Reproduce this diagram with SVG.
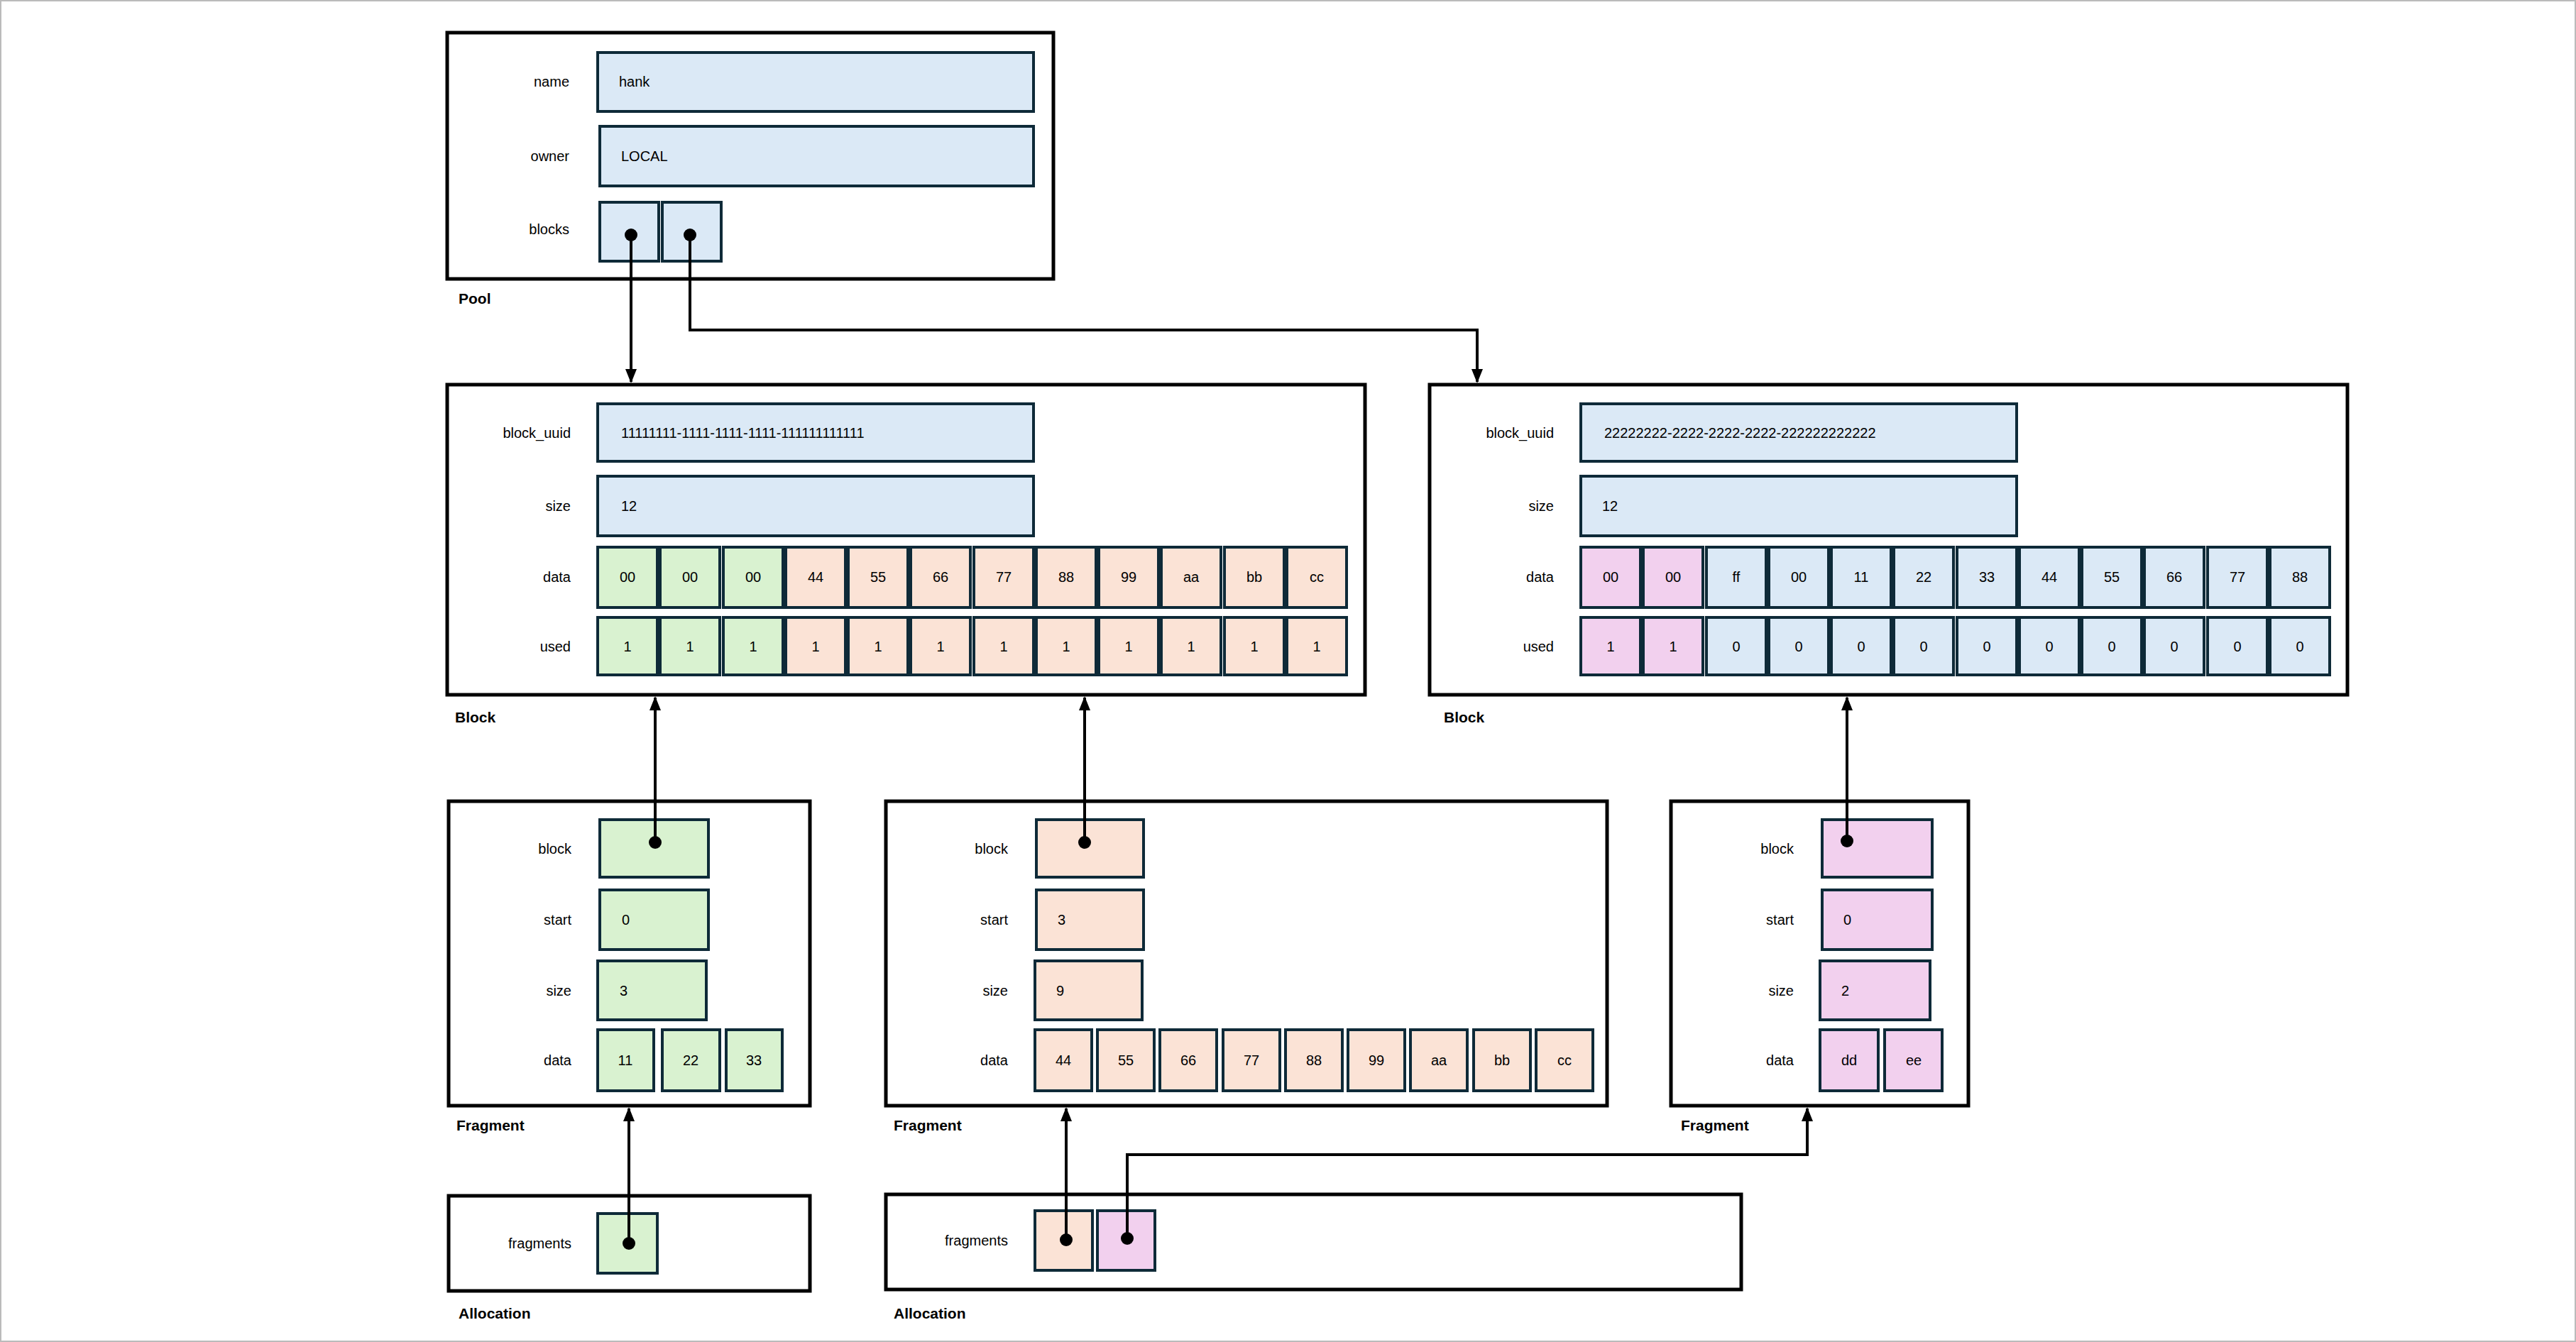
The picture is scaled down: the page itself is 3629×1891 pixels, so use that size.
<svg xmlns="http://www.w3.org/2000/svg" width="3629" height="1891" viewBox="0 0 3629 1891">
<defs>
<style>
.box{fill:#fff;stroke:#000;stroke-width:5}
.f{stroke:#0e2a38;stroke-width:4}
.b{fill:#dbe9f6}.g{fill:#d9f2d0}.o{fill:#fbe3d6}.p{fill:#f2d0ee}
text{font-family:"Liberation Sans",Arial,sans-serif;font-size:20px;fill:#000}
.l{text-anchor:end}
.c{text-anchor:middle}
.t{font-weight:bold;font-size:21px}
.w{fill:none;stroke:#000;stroke-width:4}
</style>
<marker id="ah" viewBox="0 0 10 10" refX="9" refY="5" markerWidth="5" markerHeight="5" orient="auto-start-reverse" markerUnits="strokeWidth"><path d="M0,1 L10,5 L0,9 z" fill="#000"/></marker>
</defs>
<rect x="1" y="1" width="3627" height="1889" fill="#fff" stroke="#bbb" stroke-width="2"/>

<g id="pool">
<rect class="box" x="630" y="46" width="854" height="347"/>
<text class="l" x="802" y="122">name</text><rect class="f b" x="842" y="74" width="614" height="83"/><text x="872" y="122">hank</text>
<text class="l" x="802" y="227">owner</text><rect class="f b" x="845" y="178" width="611" height="84"/><text x="875" y="227">LOCAL</text>
<text class="l" x="802" y="330">blocks</text><rect class="f b" x="845" y="285" width="83" height="83"/><rect class="f b" x="933" y="285" width="83" height="83"/>
<text class="t" x="646" y="428">Pool</text>
</g>

<g id="block1">
<rect class="box" x="630" y="542" width="1293" height="437"/>
<text class="l" x="804" y="617">block_uuid</text><rect class="f b" x="842" y="569" width="614" height="81"/><text x="875" y="617">11111111-1111-1111-1111-111111111111</text>
<text class="l" x="804" y="720">size</text><rect class="f b" x="842" y="671" width="614" height="84"/><text x="875" y="720">12</text>
<text class="l" x="804" y="820">data</text>
<text class="l" x="804" y="918">used</text>
<g id="b1data">
<rect class="f g" x="842" y="771" width="84" height="85"/><text class="c" x="884" y="820">00</text>
<rect class="f g" x="930" y="771" width="84" height="85"/><text class="c" x="972" y="820">00</text>
<rect class="f g" x="1019" y="771" width="84" height="85"/><text class="c" x="1061" y="820">00</text>
<rect class="f o" x="1107" y="771" width="84" height="85"/><text class="c" x="1149" y="820">44</text>
<rect class="f o" x="1195" y="771" width="84" height="85"/><text class="c" x="1237" y="820">55</text>
<rect class="f o" x="1283" y="771" width="84" height="85"/><text class="c" x="1325" y="820">66</text>
<rect class="f o" x="1372" y="771" width="84" height="85"/><text class="c" x="1414" y="820">77</text>
<rect class="f o" x="1460" y="771" width="84" height="85"/><text class="c" x="1502" y="820">88</text>
<rect class="f o" x="1548" y="771" width="84" height="85"/><text class="c" x="1590" y="820">99</text>
<rect class="f o" x="1636" y="771" width="84" height="85"/><text class="c" x="1678" y="820">aa</text>
<rect class="f o" x="1725" y="771" width="84" height="85"/><text class="c" x="1767" y="820">bb</text>
<rect class="f o" x="1813" y="771" width="84" height="85"/><text class="c" x="1855" y="820">cc</text>
</g>
<g id="b1used">
<rect class="f g" x="842" y="870" width="84" height="81"/><text class="c" x="884" y="918">1</text>
<rect class="f g" x="930" y="870" width="84" height="81"/><text class="c" x="972" y="918">1</text>
<rect class="f g" x="1019" y="870" width="84" height="81"/><text class="c" x="1061" y="918">1</text>
<rect class="f o" x="1107" y="870" width="84" height="81"/><text class="c" x="1149" y="918">1</text>
<rect class="f o" x="1195" y="870" width="84" height="81"/><text class="c" x="1237" y="918">1</text>
<rect class="f o" x="1283" y="870" width="84" height="81"/><text class="c" x="1325" y="918">1</text>
<rect class="f o" x="1372" y="870" width="84" height="81"/><text class="c" x="1414" y="918">1</text>
<rect class="f o" x="1460" y="870" width="84" height="81"/><text class="c" x="1502" y="918">1</text>
<rect class="f o" x="1548" y="870" width="84" height="81"/><text class="c" x="1590" y="918">1</text>
<rect class="f o" x="1636" y="870" width="84" height="81"/><text class="c" x="1678" y="918">1</text>
<rect class="f o" x="1725" y="870" width="84" height="81"/><text class="c" x="1767" y="918">1</text>
<rect class="f o" x="1813" y="870" width="84" height="81"/><text class="c" x="1855" y="918">1</text>
</g>
<text class="t" x="641" y="1018">Block</text>
</g>

<g id="block2">
<rect class="box" x="2014" y="542" width="1293" height="437"/>
<text class="l" x="2189" y="617">block_uuid</text><rect class="f b" x="2227" y="569" width="614" height="81"/><text x="2230" y="617" dx="30">22222222-2222-2222-2222-222222222222</text>
<text class="l" x="2189" y="720">size</text><rect class="f b" x="2227" y="671" width="614" height="84"/><text x="2257" y="720">12</text>
<text class="l" x="2189" y="820">data</text>
<text class="l" x="2189" y="918">used</text>
<g id="b2data">
<rect class="f p" x="2227" y="771" width="84" height="85"/><text class="c" x="2269" y="820">00</text>
<rect class="f p" x="2315" y="771" width="84" height="85"/><text class="c" x="2357" y="820">00</text>
<rect class="f b" x="2404" y="771" width="84" height="85"/><text class="c" x="2446" y="820">ff</text>
<rect class="f b" x="2492" y="771" width="84" height="85"/><text class="c" x="2534" y="820">00</text>
<rect class="f b" x="2580" y="771" width="84" height="85"/><text class="c" x="2622" y="820">11</text>
<rect class="f b" x="2668" y="771" width="84" height="85"/><text class="c" x="2710" y="820">22</text>
<rect class="f b" x="2757" y="771" width="84" height="85"/><text class="c" x="2799" y="820">33</text>
<rect class="f b" x="2845" y="771" width="84" height="85"/><text class="c" x="2887" y="820">44</text>
<rect class="f b" x="2933" y="771" width="84" height="85"/><text class="c" x="2975" y="820">55</text>
<rect class="f b" x="3021" y="771" width="84" height="85"/><text class="c" x="3063" y="820">66</text>
<rect class="f b" x="3110" y="771" width="84" height="85"/><text class="c" x="3152" y="820">77</text>
<rect class="f b" x="3198" y="771" width="84" height="85"/><text class="c" x="3240" y="820">88</text>
</g>
<g id="b2used">
<rect class="f p" x="2227" y="870" width="84" height="81"/><text class="c" x="2269" y="918">1</text>
<rect class="f p" x="2315" y="870" width="84" height="81"/><text class="c" x="2357" y="918">1</text>
<rect class="f b" x="2404" y="870" width="84" height="81"/><text class="c" x="2446" y="918">0</text>
<rect class="f b" x="2492" y="870" width="84" height="81"/><text class="c" x="2534" y="918">0</text>
<rect class="f b" x="2580" y="870" width="84" height="81"/><text class="c" x="2622" y="918">0</text>
<rect class="f b" x="2668" y="870" width="84" height="81"/><text class="c" x="2710" y="918">0</text>
<rect class="f b" x="2757" y="870" width="84" height="81"/><text class="c" x="2799" y="918">0</text>
<rect class="f b" x="2845" y="870" width="84" height="81"/><text class="c" x="2887" y="918">0</text>
<rect class="f b" x="2933" y="870" width="84" height="81"/><text class="c" x="2975" y="918">0</text>
<rect class="f b" x="3021" y="870" width="84" height="81"/><text class="c" x="3063" y="918">0</text>
<rect class="f b" x="3110" y="870" width="84" height="81"/><text class="c" x="3152" y="918">0</text>
<rect class="f b" x="3198" y="870" width="84" height="81"/><text class="c" x="3240" y="918">0</text>
</g>
<text class="t" x="2034" y="1018">Block</text>
</g>

<g id="fragment1">
<rect class="box" x="632" y="1129" width="509" height="429"/>
<text class="l" x="805" y="1203">block</text><rect class="f g" x="845" y="1155" width="153" height="81"/>
<text class="l" x="805" y="1303">start</text><rect class="f g" x="845" y="1254" width="153" height="84"/><text x="876" y="1303">0</text>
<text class="l" x="805" y="1403">size</text><rect class="f g" x="842" y="1354" width="153" height="83"/><text x="873" y="1403">3</text>
<text class="l" x="805" y="1501">data</text>
<rect class="f g" x="842" y="1451" width="79" height="86"/><text class="c" x="881" y="1501">11</text>
<rect class="f g" x="933" y="1451" width="81" height="86"/><text class="c" x="973" y="1501">22</text>
<rect class="f g" x="1023" y="1451" width="79" height="86"/><text class="c" x="1062" y="1501">33</text>
<text class="t" x="643" y="1593">Fragment</text>
</g>

<g id="fragment2">
<rect class="box" x="1248" y="1129" width="1016" height="429"/>
<text class="l" x="1420" y="1203">block</text><rect class="f o" x="1460" y="1155" width="151" height="81"/>
<text class="l" x="1420" y="1303">start</text><rect class="f o" x="1460" y="1254" width="151" height="84"/><text x="1490" y="1303">3</text>
<text class="l" x="1420" y="1403">size</text><rect class="f o" x="1458" y="1354" width="151" height="83"/><text x="1488" y="1403">9</text>
<text class="l" x="1420" y="1501">data</text>
<rect class="f o" x="1458" y="1451" width="80" height="86"/><text class="c" x="1498" y="1501">44</text>
<rect class="f o" x="1546" y="1451" width="80" height="86"/><text class="c" x="1586" y="1501">55</text>
<rect class="f o" x="1634" y="1451" width="80" height="86"/><text class="c" x="1674" y="1501">66</text>
<rect class="f o" x="1723" y="1451" width="80" height="86"/><text class="c" x="1763" y="1501">77</text>
<rect class="f o" x="1811" y="1451" width="80" height="86"/><text class="c" x="1851" y="1501">88</text>
<rect class="f o" x="1899" y="1451" width="80" height="86"/><text class="c" x="1939" y="1501">99</text>
<rect class="f o" x="1987" y="1451" width="80" height="86"/><text class="c" x="2027" y="1501">aa</text>
<rect class="f o" x="2076" y="1451" width="80" height="86"/><text class="c" x="2116" y="1501">bb</text>
<rect class="f o" x="2164" y="1451" width="80" height="86"/><text class="c" x="2204" y="1501">cc</text>
<text class="t" x="1259" y="1593">Fragment</text>
</g>

<g id="fragment3">
<rect class="box" x="2354" y="1129" width="419" height="429"/>
<text class="l" x="2527" y="1203">block</text><rect class="f p" x="2567" y="1155" width="155" height="81"/>
<text class="l" x="2527" y="1303">start</text><rect class="f p" x="2567" y="1254" width="155" height="84"/><text x="2597" y="1303">0</text>
<text class="l" x="2527" y="1403">size</text><rect class="f p" x="2564" y="1354" width="155" height="83"/><text x="2594" y="1403">2</text>
<text class="l" x="2527" y="1501">data</text>
<rect class="f p" x="2564" y="1451" width="82" height="86"/><text class="c" x="2605" y="1501">dd</text>
<rect class="f p" x="2655" y="1451" width="81" height="86"/><text class="c" x="2696" y="1501">ee</text>
<text class="t" x="2368" y="1593">Fragment</text>
</g>

<g id="allocation1">
<rect class="box" x="632" y="1685" width="509" height="134"/>
<text class="l" x="805" y="1759">fragments</text><rect class="f g" x="842" y="1710" width="84" height="84"/>
<text class="t" x="646" y="1858">Allocation</text>
</g>

<g id="allocation2">
<rect class="box" x="1248" y="1683" width="1205" height="134"/>
<text class="l" x="1420" y="1755">fragments</text>
<rect class="f o" x="1458" y="1706" width="81" height="84"/><rect class="f p" x="1546" y="1706" width="81" height="84"/>
<text class="t" x="1259" y="1858">Allocation</text>
</g>

<g id="connectors">
<path class="w" d="M889,331 V538" marker-end="url(#ah)"/>
<path class="w" d="M972,331 V465 H2081 V538" marker-end="url(#ah)"/>
<path class="w" d="M923,1187 V983" marker-end="url(#ah)"/>
<path class="w" d="M1528,1187 V983" marker-end="url(#ah)"/>
<path class="w" d="M2602,1185 V983" marker-end="url(#ah)"/>
<path class="w" d="M886,1752 V1562" marker-end="url(#ah)"/>
<path class="w" d="M1502,1747 V1562" marker-end="url(#ah)"/>
<path class="w" d="M1588,1745 V1627 H2546 V1562" marker-end="url(#ah)"/>
<g fill="#000">
<circle cx="889" cy="331" r="9"/><circle cx="972" cy="331" r="9"/>
<circle cx="923" cy="1187" r="9"/><circle cx="1528" cy="1187" r="9"/><circle cx="2602" cy="1185" r="9"/>
<circle cx="886" cy="1752" r="9"/><circle cx="1502" cy="1747" r="9"/><circle cx="1588" cy="1745" r="9"/>
</g>
</g>
</svg>
